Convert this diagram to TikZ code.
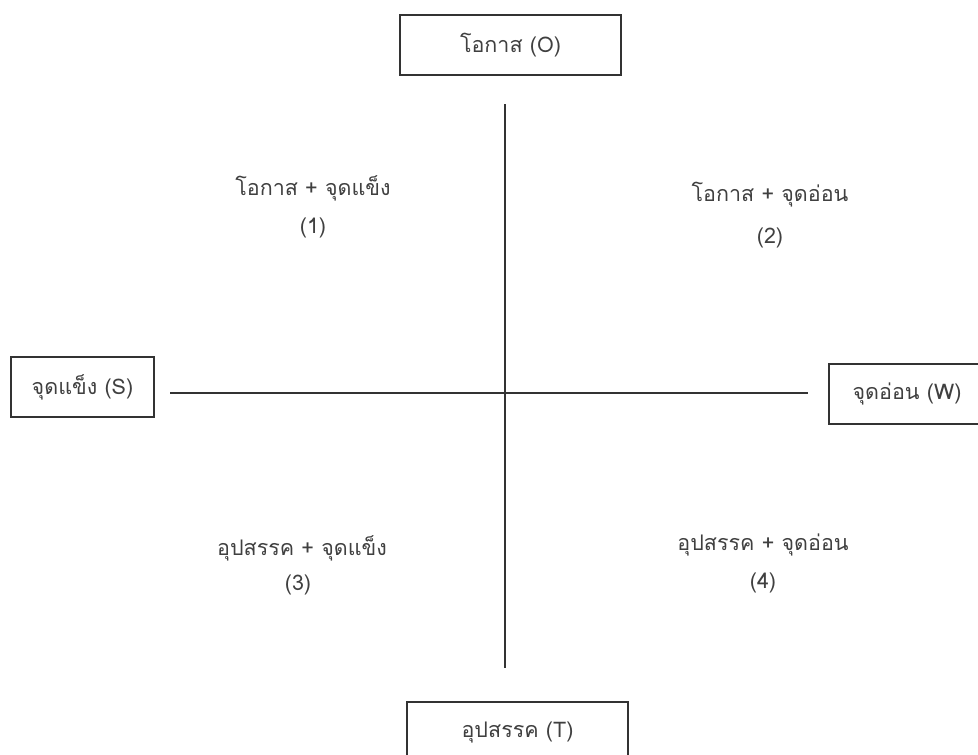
\documentclass[tikz,border=0pt]{standalone}
\usepackage{fontspec}
\newfontfamily\thaifont[Script=Thai]{Loma}
\definecolor{txt}{HTML}{404040}
\definecolor{edge}{HTML}{333333}
\begin{document}
\begin{tikzpicture}[x=1pt,y=-1pt,
  lbl/.style={font=\thaifont\fontsize{21.5}{25}\selectfont, text=txt, inner sep=0pt},
  boxnode/.style={draw=edge, line width=1.6pt, fill=white, minimum height=60pt, lbl},
  axis/.style={draw=edge, line width=1.2pt}]
\useasboundingbox (0,0) rectangle (978,755);
\clip (0,0) rectangle (978,755);
\node[boxnode, minimum width=221pt] (O) at (510.5,45) {โอกาส (O)};
\node[boxnode, minimum width=143pt] (S) at (82.5,387) {จุดแข็ง (S)};
\node[boxnode, minimum width=156pt] (W) at (907,394) {จุดอ่อน (W)};
\node[boxnode, minimum width=221pt] (T) at (517.5,732) {อุปสรรค (T)};
\coordinate (vt) at (505,104);
\coordinate (vb) at (505,668);
\coordinate (hl) at (170,393);
\coordinate (hr) at (808,393);
\draw[axis] (vt) -- (vb);
\draw[axis] (hl) -- (hr);
\node[lbl] (q1) at (313,188) {โอกาส + จุดแข็ง};
\node[lbl] (q1n) at (313,228) {(1)};
\node[lbl] (q2) at (770,195) {โอกาส + จุดอ่อน};
\node[lbl] (q2n) at (770,238) {(2)};
\node[lbl] (q3) at (302,548) {อุปสรรค + จุดแข็ง};
\node[lbl] (q3n) at (298,585) {(3)};
\node[lbl] (q4) at (763,545) {อุปสรรค + จุดอ่อน};
\node[lbl] (q4n) at (763,583) {(4)};
\end{tikzpicture}
\end{document}
